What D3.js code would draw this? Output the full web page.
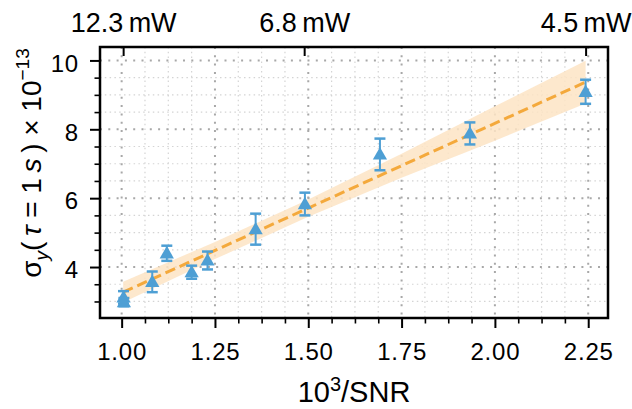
<!DOCTYPE html>
<html>
<head>
<meta charset="utf-8">
<script src="https://cdn.jsdelivr.net/npm/d3@7"></script>
<style>
  html, body { margin: 0; padding: 0; background: #fff; }
  text { font-family: "Liberation Sans", Arial, sans-serif; fill: #000; }
</style>
</head>
<body>
<div id="chart"></div>
<script>
// measured points (10^3/SNR vs Allan deviation at 1 s, x 1e-13)
const snr = [1.005, 1.006, 1.082, 1.121, 1.1875, 1.230, 1.359, 1.491, 1.692, 1.933, 2.243];
const sigma = [3.12, 2.98, 3.57, 4.40, 3.85, 4.19, 5.10, 5.83, 7.27, 7.88, 9.09];
const sigmaErr = [0.18, 0.12, 0.30, 0.22, 0.19, 0.26, 0.45, 0.33, 0.46, 0.32, 0.35];

// linear fit and its confidence band
const fitX = [1.004, 2.243];
const fitY = [3.27, 9.37];
const bandX = [1.004, 1.25, 1.5, 1.75, 2.0, 2.243];
const bandLow = [2.97, 4.23, 5.46, 6.59, 7.67, 8.75];
const bandHigh = [3.57, 4.73, 5.96, 7.29, 8.67, 9.99];

// axis ticks
const xTicks = [1.00, 1.25, 1.50, 1.75, 2.00, 2.25];
const yTicks = [4, 6, 8, 10];
const topTickX = [1.004, 1.489, 2.243];
const topTickLabels = ["12.3\u2009mW", "6.8\u2009mW", "4.5\u2009mW"];

const W = 632, H = 409;
const margin = { top: 47, right: 24, bottom: 91, left: 100 },
  width = W - margin.left - margin.right,
  height = H - margin.top - margin.bottom;

const svg = d3.select("#chart")
  .append("svg")
  .attr("width", W)
  .attr("height", H)
  .style("display", "block");

svg.append("rect").attr("width", W).attr("height", H).attr("fill", "#fff");

const g = svg.append("g")
  .attr("transform", `translate(${margin.left},${margin.top})`);

const x = d3.scaleLinear().domain([0.942, 2.303]).range([0, width]);
const y = d3.scaleLinear().domain([2.52, 10.39]).range([height, 0]);

const xMinor = d3.range(0.9375, 2.31, 0.0625).filter(v => v > 0.942 && v < 2.303 && !xTicks.some(t => Math.abs(t - v) < 1e-6));
const yMinor = d3.range(2.5, 10.5, 0.5).filter(v => v > 2.52 && v < 10.39 && !yTicks.includes(v));

// minor grid
g.append("g")
  .selectAll("line")
  .data(xMinor)
  .enter().append("line")
  .attr("x1", d => x(d)).attr("x2", d => x(d))
  .attr("y1", 0).attr("y2", height)
  .attr("stroke", "#d4d4d4").attr("stroke-width", 1.2)
  .attr("stroke-dasharray", "1.5,3.3");

g.append("g")
  .selectAll("line")
  .data(yMinor)
  .enter().append("line")
  .attr("y1", d => y(d)).attr("y2", d => y(d))
  .attr("x1", 0).attr("x2", width)
  .attr("stroke", "#d4d4d4").attr("stroke-width", 1.2)
  .attr("stroke-dasharray", "1.5,3.3");

// major grid
g.append("g")
  .selectAll("line")
  .data(xTicks)
  .enter().append("line")
  .attr("x1", d => x(d)).attr("x2", d => x(d))
  .attr("y1", 0).attr("y2", height)
  .attr("stroke", "#a8a8a8").attr("stroke-width", 2)
  .attr("stroke-dasharray", "2,6.3");

g.append("g")
  .selectAll("line")
  .data(yTicks)
  .enter().append("line")
  .attr("y1", d => y(d)).attr("y2", d => y(d))
  .attr("x1", 0).attr("x2", width)
  .attr("stroke", "#a8a8a8").attr("stroke-width", 2)
  .attr("stroke-dasharray", "2,6.3");

// confidence band
const bandData = bandX.map((v, i) => ({ x: v, lo: bandLow[i], hi: bandHigh[i] }));
g.append("path")
  .datum(bandData)
  .attr("fill", "#fde4c4")
  .attr("opacity", 0.85)
  .attr("d", d3.area().x(d => x(d.x)).y0(d => y(d.lo)).y1(d => y(d.hi)));

// fit line
g.append("path")
  .datum(fitX.map((v, i) => [v, fitY[i]]))
  .attr("fill", "none")
  .attr("stroke", "#f4a93c")
  .attr("stroke-width", 3)
  .attr("stroke-dasharray", "10.5,5")
  .attr("d", d3.line().x(d => x(d[0])).y(d => y(d[1])));

// error bars
const pts = snr.map((v, i) => ({ x: v, y: sigma[i], e: sigmaErr[i] }));
const blue = "#4e9fd4";
const cap = 5.5;
const eb = g.append("g").attr("stroke", blue).attr("stroke-width", 2);
pts.forEach(d => {
  const cx = x(d.x), y0 = y(d.y - d.e), y1 = y(d.y + d.e);
  eb.append("line").attr("x1", cx).attr("x2", cx).attr("y1", y0).attr("y2", y1);
  eb.append("line").attr("x1", cx - cap).attr("x2", cx + cap).attr("y1", y0).attr("y2", y0).attr("stroke-width", 2.5);
  eb.append("line").attr("x1", cx - cap).attr("x2", cx + cap).attr("y1", y1).attr("y2", y1).attr("stroke-width", 2.5);
});

// markers
g.append("g")
  .selectAll("path")
  .data(pts)
  .enter().append("path")
  .attr("transform", d => `translate(${x(d.x)},${y(d.y) + 1})`)
  .attr("d", d3.symbol().type(d3.symbolTriangle).size(88))
  .attr("fill", blue);

// bottom axis
const xAxis = g.append("g")
  .attr("transform", `translate(0,${height})`)
  .call(d3.axisBottom(x).tickValues(xTicks).tickSize(10).tickPadding(15).tickFormat(d3.format(".2f")));
xAxis.select(".domain").remove();
xAxis.selectAll("line").attr("stroke-width", 2);
xAxis.selectAll("text").style("font-size", "24px").style("letter-spacing", "0.8px")
  .style("font-family", "Liberation Sans, Arial, sans-serif");

g.append("g")
  .attr("transform", `translate(0,${height})`)
  .call(d3.axisBottom(x).tickValues(xMinor).tickSize(5.5).tickFormat(""))
  .call(a => a.select(".domain").remove())
  .selectAll("line").attr("stroke-width", 1.6);

// left axis
const yAxis = g.append("g")
  .call(d3.axisLeft(y).tickValues(yTicks).tickSize(10).tickPadding(11).tickFormat(d3.format("d")));
yAxis.select(".domain").remove();
yAxis.selectAll("line").attr("stroke-width", 2);
yAxis.selectAll("text").attr("dy", "0.45em").style("font-size", "24px").style("letter-spacing", "0.8px")
  .style("font-family", "Liberation Sans, Arial, sans-serif");

g.append("g")
  .call(d3.axisLeft(y).tickValues(yMinor).tickSize(5.5).tickFormat(""))
  .call(a => a.select(".domain").remove())
  .selectAll("line").attr("stroke-width", 1.6);

// top axis (laser power)
const topAxis = g.append("g")
  .call(d3.axisTop(x).tickValues(topTickX).tickSize(-9).tickPadding(15).tickFormat((d, i) => topTickLabels[i]));
topAxis.select(".domain").remove();
topAxis.selectAll("line").attr("stroke-width", 2);
topAxis.selectAll("text").style("font-size", "27px")
  .style("font-family", "Liberation Sans, Arial, sans-serif");

// frame
g.append("rect")
  .attr("width", width).attr("height", height)
  .attr("fill", "none").attr("stroke", "#000").attr("stroke-width", 2.5);

// axis labels
const xl = svg.append("text")
  .attr("x", margin.left + width / 2)
  .attr("y", 402)
  .attr("text-anchor", "middle")
  .style("font-size", "29px");
xl.append("tspan").text("10");
xl.append("tspan").attr("dy", -11).style("font-size", "20px").text("3");
xl.append("tspan").attr("dy", 11).text("/SNR");

const yl = svg.append("text")
  .attr("transform", "translate(41,163) rotate(-90)")
  .attr("text-anchor", "middle")
  .style("font-size", "28px");
yl.append("tspan").text("\u03C3");
yl.append("tspan").attr("dy", 7).style("font-size", "19px").style("font-style", "italic").text("y");
yl.append("tspan").attr("dy", -7).text("(\u2009");
yl.append("tspan").style("font-style", "italic").text("\u03C4");
yl.append("tspan").text(" = 1");
yl.append("tspan").style("font-style", "italic").text("\u2009s");
yl.append("tspan").text("\u2009)  \u00D7 10");
yl.append("tspan").attr("dy", -12).style("font-size", "19px").text("\u221213");
</script>
</body>
</html>
